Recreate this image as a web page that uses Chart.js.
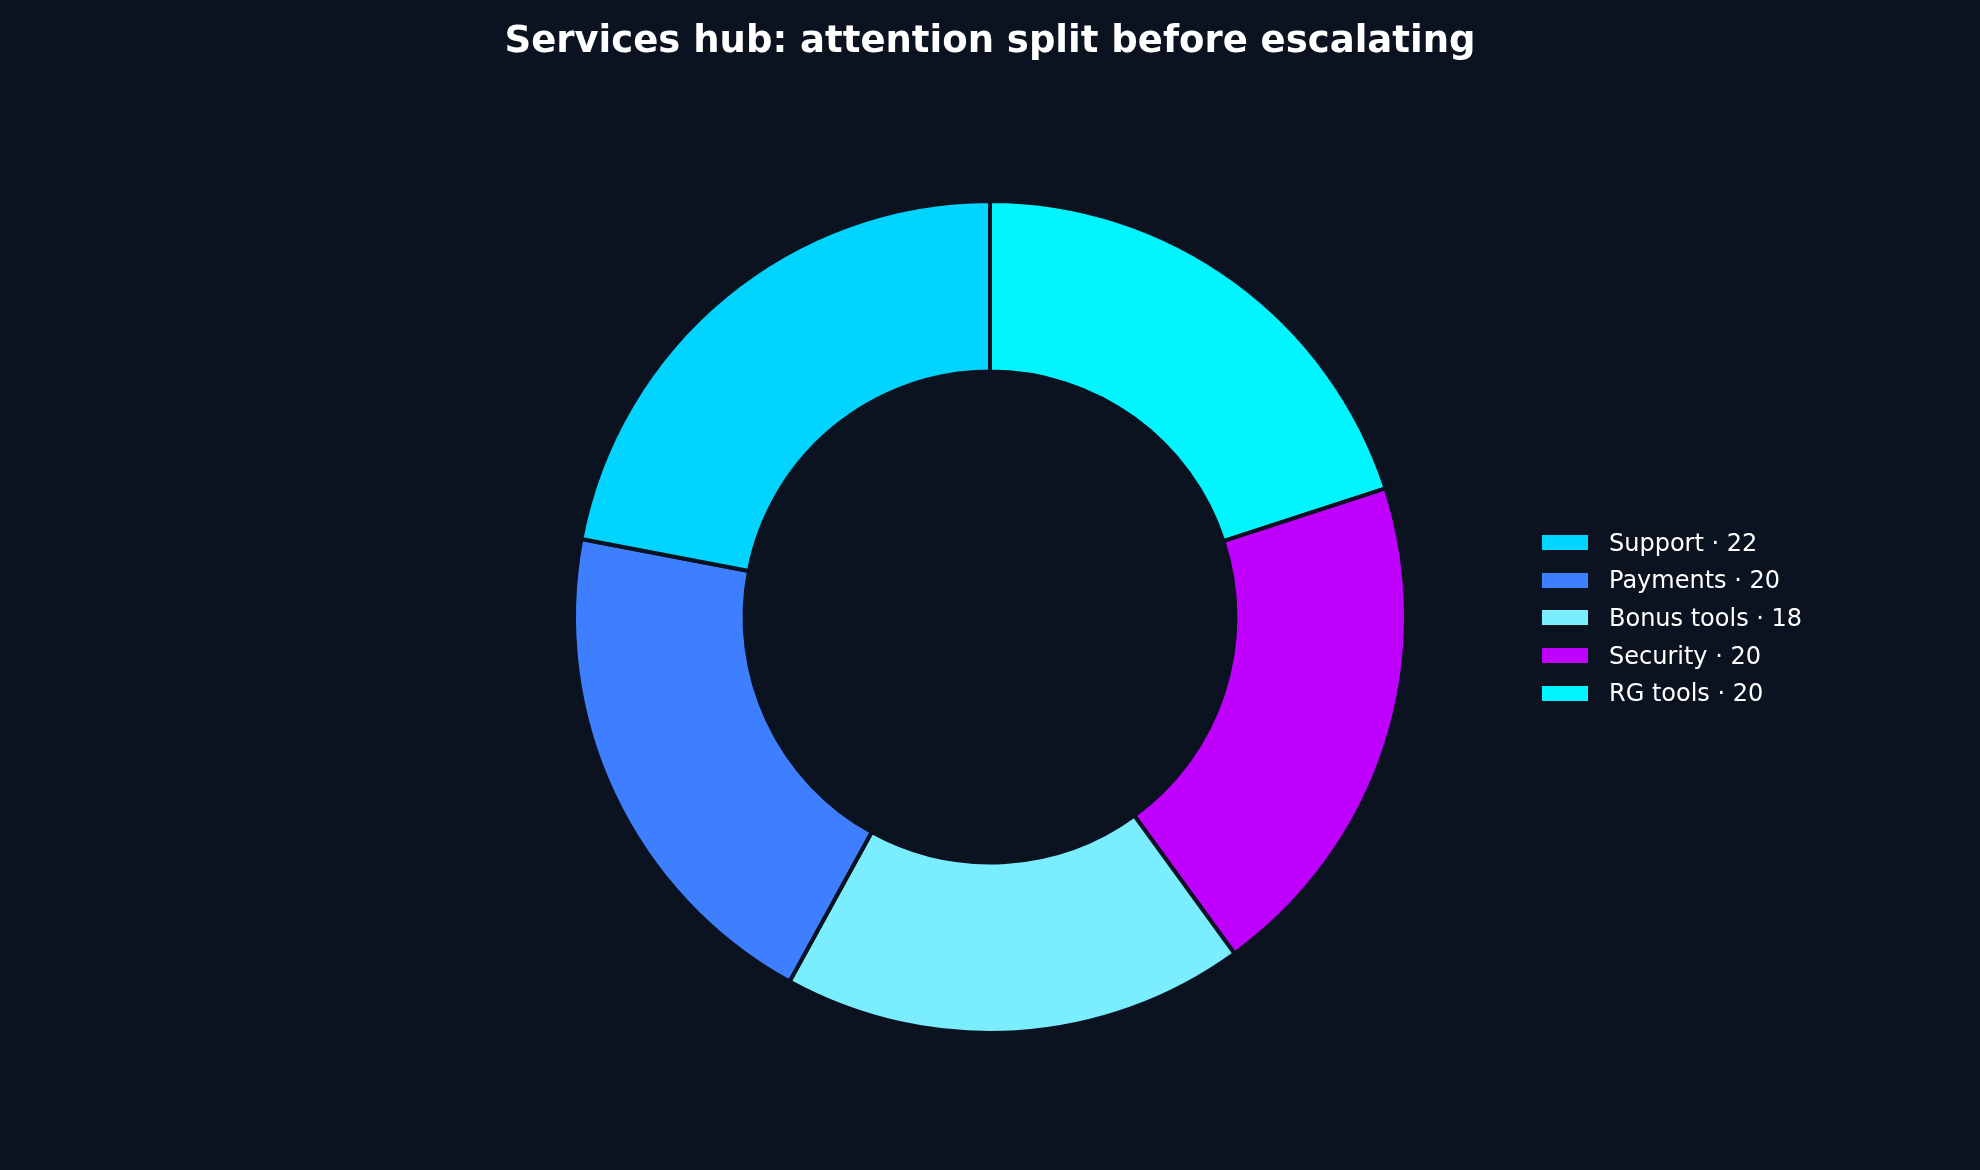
<!DOCTYPE html>
<html><head><meta charset="utf-8">
<script src="https://cdn.jsdelivr.net/npm/chart.js@4"></script>
<style>
html,body{margin:0;padding:0;background:#0b1220;width:1980px;height:1170px;overflow:hidden;font-family:"DejaVu Sans",sans-serif;}
#wrap{position:absolute;left:0;top:0;width:1980px;height:1170px;}
#title{position:absolute;top:18px;left:0;width:1980px;text-align:center;color:#fff;font-weight:bold;font-size:37px;}
#legend{position:absolute;left:1542px;top:524px;color:#fff;font-size:24px;}
.item{display:flex;align-items:center;height:37.6px;}
.sw{width:46px;height:15px;margin-right:21px;}
</style></head><body>
<div id="wrap"><canvas id="c" width="1980" height="1170"></canvas></div>
<div id="title">Services hub: attention split before escalating</div>
<div id="legend"></div>
<script>
const categories=["Support","Payments","Bonus tools","Security","RG tools"];
const values=[22,20,18,20,20];
const colors=["#00d4ff","#3d7fff","#7aedff","#bf00ff","#00f5ff"];
// legend
const lg=document.getElementById('legend');
categories.forEach((c,i)=>{const d=document.createElement('div');d.className='item';
d.innerHTML='<span class="sw" style="background:'+colors[i]+'"></span><span>'+c+' \u00b7 '+values[i]+'</span>';lg.appendChild(d);});
// reference goes counterclockwise from top; Chart.js goes clockwise, so reverse
const rl=[...categories].reverse(), rv=[...values].reverse(), rc=[...colors].reverse();
new Chart(document.getElementById('c'),{type:'doughnut',
data:{labels:rl,datasets:[{data:rv,backgroundColor:rc,borderColor:'#0b1220',borderWidth:4}]},
options:{responsive:false,animation:false,cutout:'59%',
layout:{padding:{top:199,bottom:135,left:0,right:0}},
plugins:{legend:{display:false},tooltip:{enabled:false}}}});
</script></body></html>
